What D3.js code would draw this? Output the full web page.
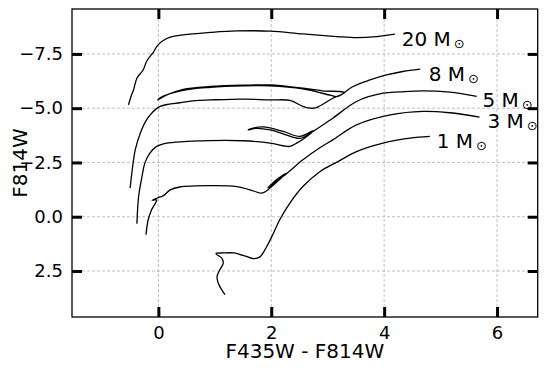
<!DOCTYPE html>
<html>
<head>
<meta charset="utf-8">
<script src="https://cdn.jsdelivr.net/npm/d3@7"></script>
<style>
  body { margin: 0; background: #fff; }
  text { font-family: "DejaVu Sans", sans-serif; }
</style>
</head>
<body>
<svg width="549" height="372"></svg>
<script>
// tracks: [colour F435W-F814W, magnitude F814W]
var track20 = [[-0.53,-5.15],[-0.48,-5.57],[-0.44,-5.84],[-0.38,-6.38],[-0.27,-6.76],[-0.21,-7.15],
  [-0.15,-7.38],[-0.08,-7.61],[-0.03,-7.84],[0.06,-8.07],[0.21,-8.27],[0.44,-8.38],[0.92,-8.49],
  [1.39,-8.56],[1.98,-8.55],[2.56,-8.42],[3.16,-8.30],[3.51,-8.25],[3.87,-8.30],[4.19,-8.41]];

var track8 = [[-0.50,-1.32],[-0.47,-2.01],[-0.41,-3.08],[-0.32,-3.85],[-0.21,-4.46],[-0.09,-4.85],
  [0.03,-5.08],[0.17,-5.18],[0.38,-5.25],[0.65,-5.35],[0.92,-5.38],[1.50,-5.42],[1.98,-5.38],
  [2.33,-5.36],[2.56,-5.08],[2.68,-5.00],[2.80,-5.03],[3.09,-5.46],[3.30,-5.71],
  [3.27,-5.75],[2.91,-5.80],[2.56,-5.92],[1.98,-6.07],[1.50,-6.06],[0.92,-6.00],[0.44,-5.87],
  [0.15,-5.61],[-0.01,-5.38],[0.03,-5.48],[0.44,-5.82],[0.92,-5.96],[1.50,-6.03],[1.98,-6.03],
  [2.56,-5.89],[3.06,-5.59],[3.17,-5.54],[3.45,-6.00],[3.75,-6.30],[4.04,-6.53],[4.33,-6.69],[4.64,-6.80]];

var track5 = [[-0.38,0.32],[-0.35,-0.93],[-0.29,-1.85],[-0.24,-2.47],[-0.15,-2.93],[-0.03,-3.24],
  [0.09,-3.36],[0.33,-3.44],[0.92,-3.51],[1.50,-3.50],[1.98,-3.39],[2.21,-3.27],[2.33,-3.24],
  [2.45,-3.39],[2.60,-3.64],[2.74,-3.96],[2.51,-3.70],[2.21,-3.93],[1.85,-4.14],[1.62,-4.04],
  [1.59,-4.00],[1.73,-4.07],[1.98,-4.00],[2.21,-3.82],[2.51,-3.61],[2.74,-3.93],[3.09,-4.54],
  [3.51,-5.31],[3.98,-5.69],[4.28,-5.75],[4.68,-5.80],[5.16,-5.74],[5.64,-5.54]];

var track3 = [[-0.22,0.83],[-0.18,0.14],[-0.12,-0.32],[-0.03,-0.78],[-0.11,-0.76],[0.03,-0.91],
  [0.09,-0.97],[0.21,-1.24],[0.38,-1.37],[0.92,-1.43],[1.39,-1.39],[1.62,-1.24],[1.83,-1.09],
  [1.92,-1.20],[1.98,-1.33],[2.27,-2.01],[2.07,-1.66],[1.94,-1.33],[2.01,-1.47],[2.27,-1.98],
  [2.56,-2.62],[2.86,-3.18],[3.09,-3.54],[3.51,-4.23],[4.11,-4.69],[4.68,-4.85],[5.16,-4.79],[5.69,-4.59]];

var track1 = [[1.18,3.59],[1.12,3.36],[1.06,3.05],[1.04,2.75],[1.09,2.44],[1.15,2.13],[1.12,1.90],
  [1.02,1.70],[1.15,1.67],[1.33,1.67],[1.56,1.83],[1.68,1.93],[1.80,1.85],[1.92,1.37],[2.04,0.75],
  [2.15,0.14],[2.33,-0.63],[2.56,-1.39],[2.86,-2.07],[3.18,-2.54],[3.51,-3.00],[3.98,-3.39],
  [4.46,-3.62],[4.81,-3.70]];

var tracks = [track20, track8, track5, track3, track1];

var massLabels = ['20', '8', '5', '3', '1'];
var labelX = [4.31, 4.79, 5.74, 5.83, 4.93];
var labelY = [-7.88, -6.26, -5.05, -4.08, -3.16];

var xTicks = [0, 2, 4, 6];
var yTicks = [-7.5, -5.0, -2.5, 0.0, 2.5];

var svg = d3.select('svg'),
    plotLeft = 72, plotRight = 537.7, plotTop = 9, plotBottom = 317;

var x = d3.scaleLinear().domain([-1.53, 6.72]).range([plotLeft, plotRight]);
var y = d3.scaleLinear().domain([-9.57, 4.62]).range([plotTop, plotBottom]);

svg.append('clipPath').attr('id', 'plot')
  .append('rect')
  .attr('x', plotLeft).attr('y', plotTop)
  .attr('width', plotRight - plotLeft).attr('height', plotBottom - plotTop);

// grid
var grid = svg.append('g')
  .attr('stroke', '#b0b0b0')
  .attr('stroke-width', 0.8)
  .attr('stroke-dasharray', '3,2');

grid.selectAll('.gx').data(xTicks).enter().append('line')
  .attr('x1', function(d) { return x(d); })
  .attr('x2', function(d) { return x(d); })
  .attr('y1', plotTop).attr('y2', plotBottom);

grid.selectAll('.gy').data(yTicks).enter().append('line')
  .attr('y1', function(d) { return y(d); })
  .attr('y2', function(d) { return y(d); })
  .attr('x1', plotLeft).attr('x2', plotRight);

// tracks
var line = d3.line()
  .x(function(d) { return x(d[0]); })
  .y(function(d) { return y(d[1]); })
  .curve(d3.curveCatmullRom.alpha(0.5));

svg.append('g')
  .attr('clip-path', 'url(#plot)')
  .selectAll('path')
  .data(tracks)
  .enter().append('path')
  .attr('d', line)
  .attr('fill', 'none')
  .attr('stroke', '#000')
  .attr('stroke-width', 1.3)
  .attr('stroke-linejoin', 'round');

// mass labels
var labels = svg.append('g')
  .selectAll('text')
  .data(massLabels)
  .enter().append('text')
  .attr('x', function(d, i) { return x(labelX[i]); })
  .attr('y', function(d, i) { return y(labelY[i]); })
  .attr('font-size', 20)
  .text(function(d) { return d + ' M'; });

labels.append('tspan')
  .attr('dx', 3)
  .attr('dy', 2)
  .attr('font-size', 13)
  .text('\u2299');

// axes
function styleAxis(g) {
  g.select('.domain').remove();
  g.attr('font-size', 18).attr('font-family', '"DejaVu Sans", sans-serif');
  g.selectAll('.tick line').attr('stroke', '#000').attr('stroke-width', 3);
  g.selectAll('.tick text').attr('fill', '#000');
}

var fmtY = function(d) { return d3.format('.1f')(d).replace('-', '\u2212'); };

svg.append('g')
  .attr('transform', 'translate(0,' + plotBottom + ')')
  .call(d3.axisBottom(x).tickValues(xTicks).tickSizeInner(-10).tickSizeOuter(0).tickPadding(9))
  .call(styleAxis);

svg.append('g')
  .attr('transform', 'translate(0,' + plotTop + ')')
  .call(d3.axisTop(x).tickValues(xTicks).tickSizeInner(-10).tickSizeOuter(0).tickFormat(''))
  .call(styleAxis);

svg.append('g')
  .attr('transform', 'translate(' + plotLeft + ',0)')
  .call(d3.axisLeft(y).tickValues(yTicks).tickSizeInner(-10).tickSizeOuter(0).tickPadding(9).tickFormat(fmtY))
  .call(styleAxis);

svg.append('g')
  .attr('transform', 'translate(' + plotRight + ',0)')
  .call(d3.axisRight(y).tickValues(yTicks).tickSizeInner(-10).tickSizeOuter(0).tickFormat(''))
  .call(styleAxis);

// frame
svg.append('rect')
  .attr('x', plotLeft).attr('y', plotTop)
  .attr('width', plotRight - plotLeft).attr('height', plotBottom - plotTop)
  .attr('fill', 'none')
  .attr('stroke', '#000')
  .attr('stroke-width', 1.3);

// axis titles
svg.append('text')
  .attr('x', (plotLeft + plotRight) / 2)
  .attr('y', 358)
  .attr('text-anchor', 'middle')
  .attr('font-size', 20)
  .text('F435W - F814W');

svg.append('text')
  .attr('transform', 'translate(27,163) rotate(-90)')
  .attr('text-anchor', 'middle')
  .attr('font-size', 20)
  .text('F814W');
</script>
</body>
</html>
